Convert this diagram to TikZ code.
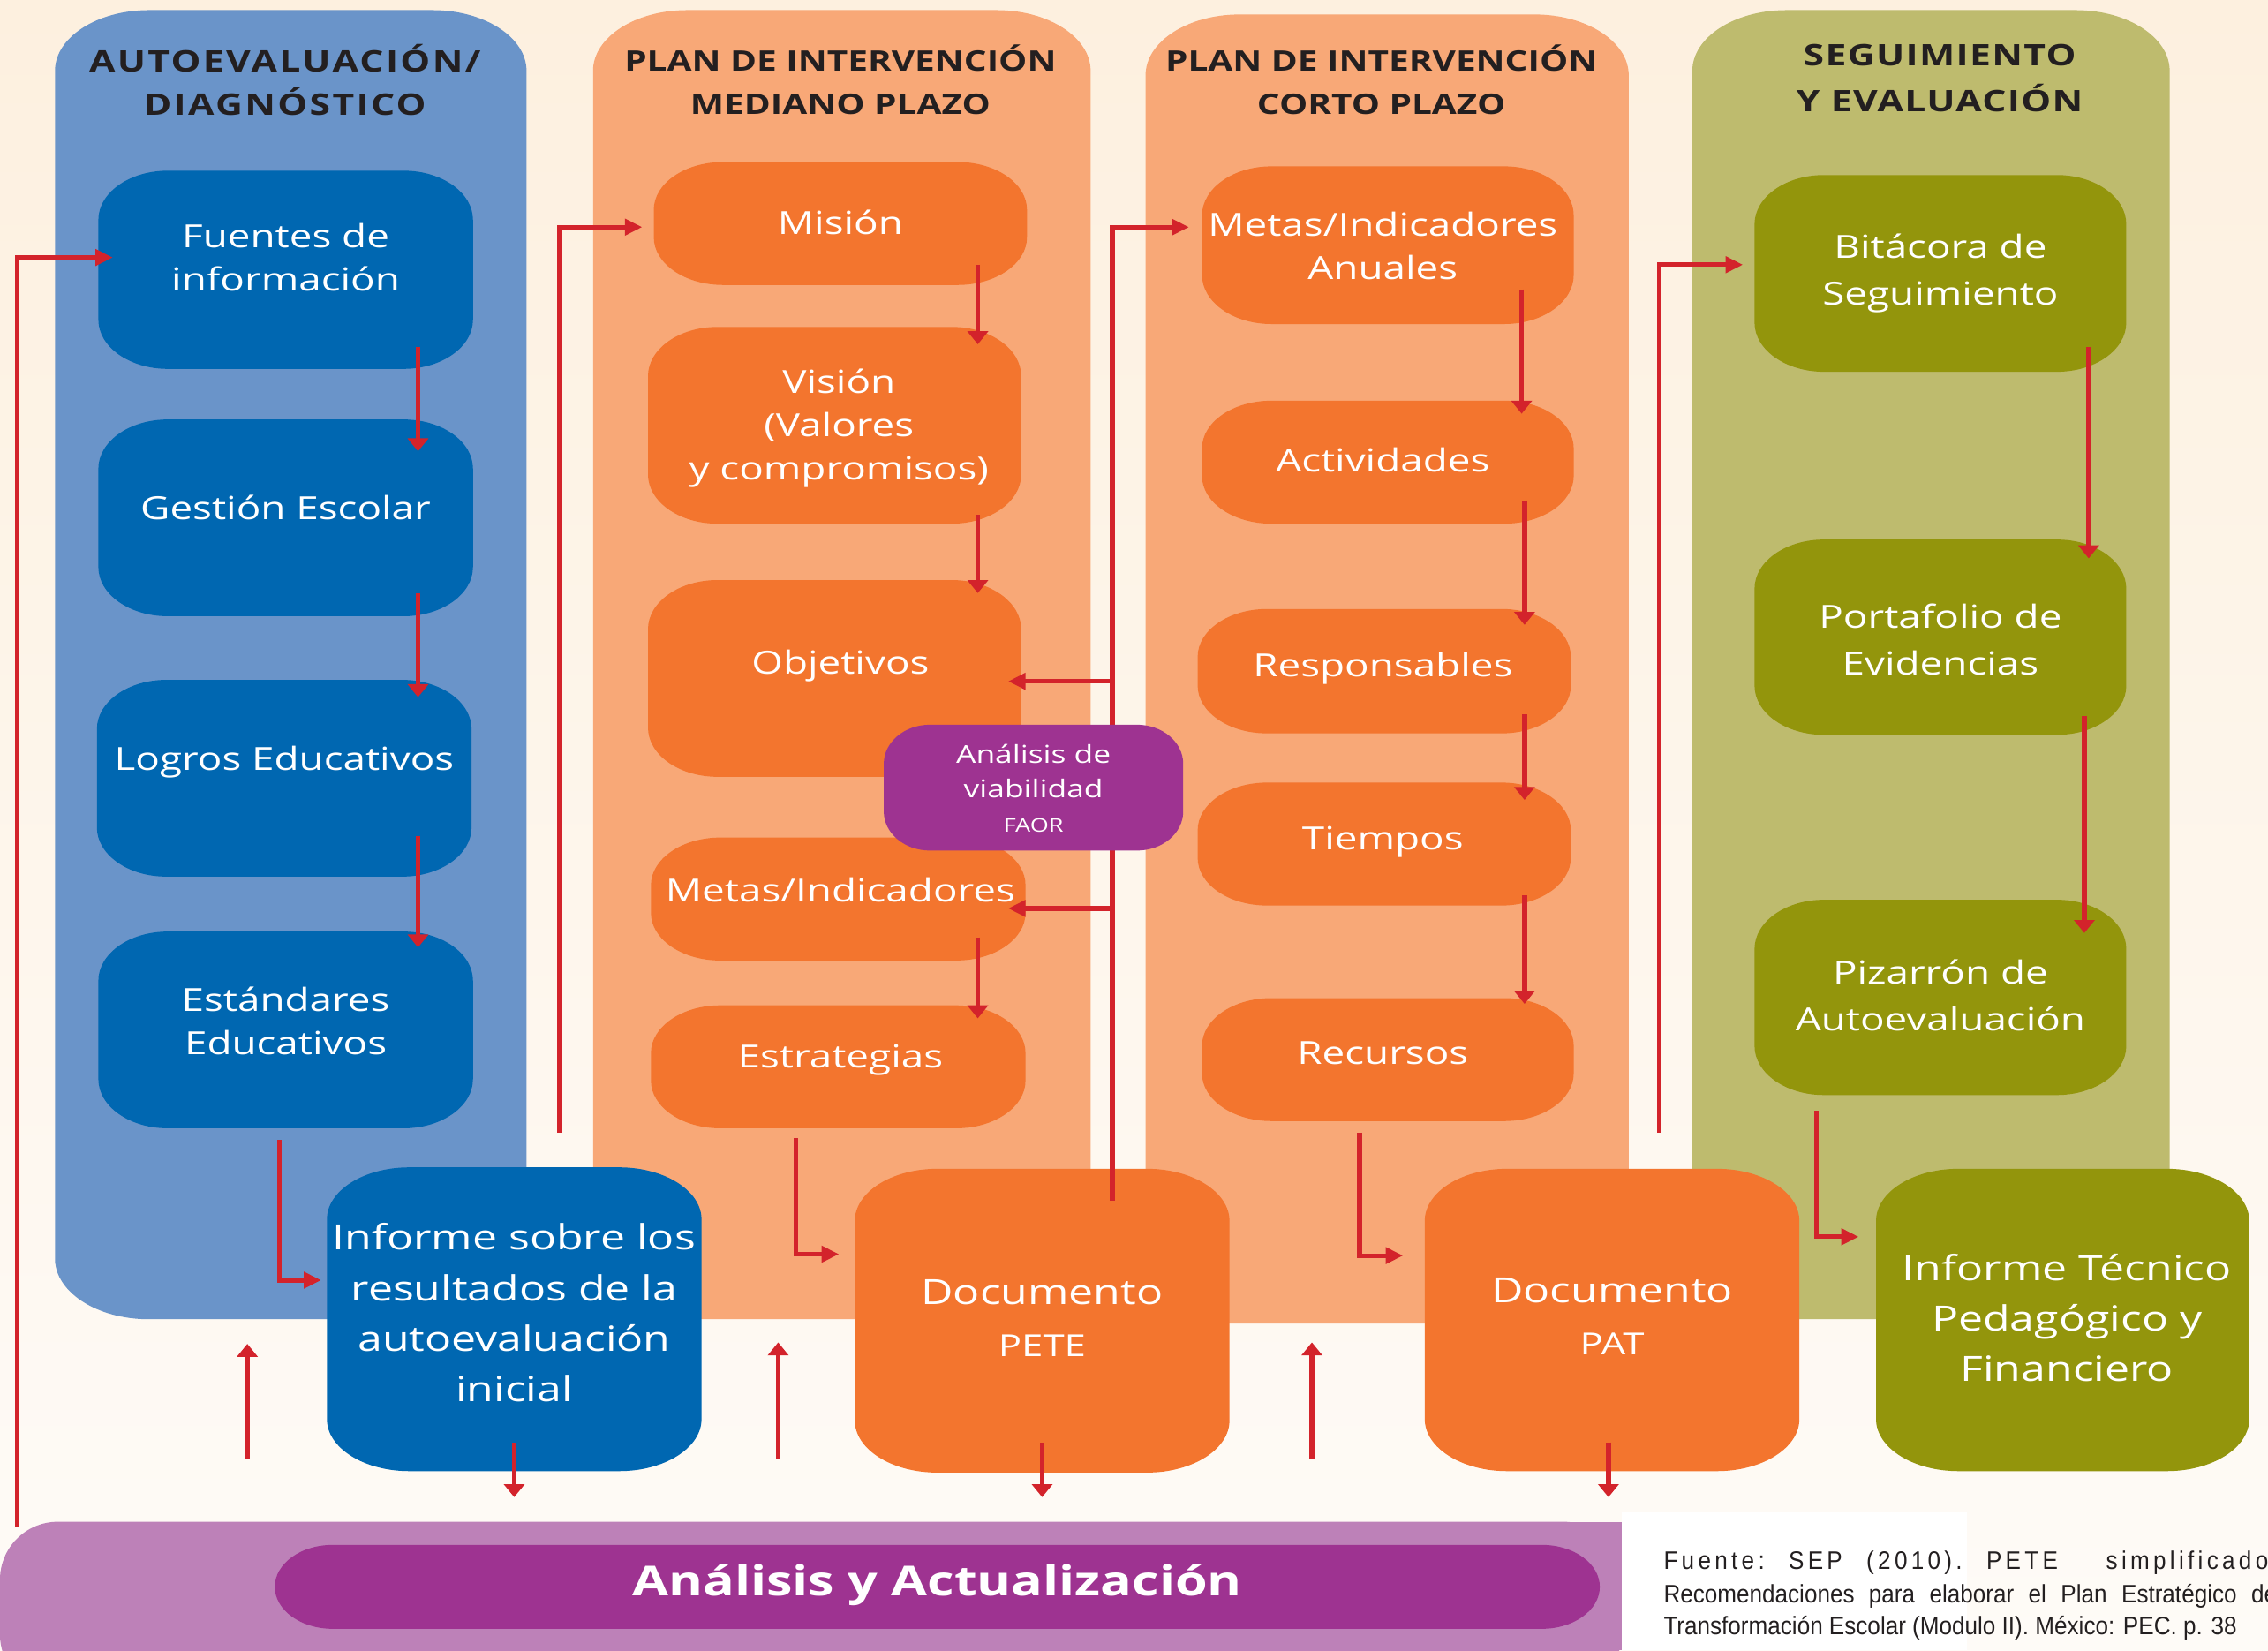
\documentclass[tikz,border=0pt]{standalone}
\usepackage{fontspec}
\setmainfont{Open Sans}[FakeStretch=1.27]
\newfontfamily\srcfont{Liberation Sans}[FakeStretch=0.91]
\usetikzlibrary{arrows.meta}
\definecolor{bgT}{HTML}{FDF0DF}
\definecolor{bgB}{HTML}{FEFBF7}
\definecolor{blueCol}{HTML}{6A94C9}
\definecolor{dblue}{HTML}{0067B1}
\definecolor{orCol}{HTML}{F8A877}
\definecolor{orng}{HTML}{F3752E}
\definecolor{grCol}{HTML}{BEBB6E}
\definecolor{olive}{HTML}{93950C}
\definecolor{purp}{HTML}{9E3391}
\definecolor{plight}{HTML}{BD81B8}
\definecolor{redA}{HTML}{D3232B}
\definecolor{headC}{HTML}{231F20}
\newcommand\elbox[4]{\fill[#2] ([xshift=#3]#1.north west) -- ([xshift=-#3]#1.north east)
  arc[start angle=90,end angle=0,x radius=#3,y radius=#4] -- ([yshift=#4]#1.south east)
  arc[start angle=0,end angle=-90,x radius=#3,y radius=#4] -- ([xshift=#3]#1.south west)
  arc[start angle=270,end angle=180,x radius=#3,y radius=#4] -- ([yshift=-#4]#1.north west)
  arc[start angle=180,end angle=90,x radius=#3,y radius=#4] -- cycle;}
\newcommand\mybox[8]{\node[bxn,minimum width=#4pt,minimum height=#5pt] (#1) at (#2,#3) {};
  \elbox{#1}{#6}{#7pt}{#8pt}}
\tikzset{
  bxn/.style={rectangle,inner sep=0pt,outer sep=0pt},
  arrV/.style={draw=redA,line width=3.2pt,-{Triangle[length=9pt,width=14pt]}},
  arrH/.style={draw=redA,line width=3.2pt,-{Triangle[length=12pt,width=11pt]}},
  lbl/.style={text=white,align=center,inner sep=0pt,font=\fontsize{22}{30}\selectfont},
  lbl4/.style={text=white,align=center,inner sep=0pt,font=\fontsize{22}{32}\selectfont},
  lblbig/.style={text=white,align=center,inner sep=0pt,font=\fontsize{24}{35}\selectfont},
  doc/.style={text=white,align=center,inner sep=0pt,font=\fontsize{24}{36}\selectfont},
  head/.style={text=headC,align=center,inner sep=0pt},
  src/.style={text=headC,anchor=base west,inner sep=0pt,font=\srcfont\fontsize{17.5}{22}\selectfont},
}
\begin{document}
\begin{tikzpicture}[x=1pt,y=-1pt]
\useasboundingbox (0,0) rectangle (1568,1141);
\clip (0,0) rectangle (1568,1141);
\fill[top color=bgT,bottom color=bgB] (0,0) rectangle (1568,1141);
% column backgrounds
\fill[blueCol] (103,7) -- (299,7) arc[start angle=90,end angle=0,x radius=65pt,y radius=42pt]
  -- (364,912) -- (103,912) arc[start angle=270,end angle=180,x radius=65pt,y radius=42pt]
  -- (38,49) arc[start angle=180,end angle=90,x radius=65pt,y radius=42pt] -- cycle;
\fill[orCol] (410,912) -- (410,49) arc[start angle=180,end angle=90,x radius=65pt,y radius=42pt]
  -- (689,7) arc[start angle=90,end angle=0,x radius=65pt,y radius=42pt] -- (754,912) -- cycle;
\fill[orCol] (792,915) -- (792,52) arc[start angle=180,end angle=90,x radius=65pt,y radius=42pt]
  -- (1061,10) arc[start angle=90,end angle=0,x radius=65pt,y radius=42pt] -- (1126,915) -- cycle;
\fill[grCol] (1170,912) -- (1170,49) arc[start angle=180,end angle=90,x radius=65pt,y radius=42pt]
  -- (1435,7) arc[start angle=90,end angle=0,x radius=65pt,y radius=42pt] -- (1500,912) -- cycle;
% headers
\node[head,font=\fontsize{20.5}{30}\selectfont\bfseries\addfontfeatures{LetterSpace=7}] (h1) at (197,55) {AUTOEVALUACIÓN/\\DIAGNÓSTICO};
\node[head,font=\fontsize{19.5}{30}\selectfont\bfseries] (h2) at (581,55) {PLAN DE INTERVENCIÓN\\MEDIANO PLAZO};
\node[head,font=\fontsize{19.5}{30}\selectfont\bfseries] (h3) at (955,55) {PLAN DE INTERVENCIÓN\\CORTO PLAZO};
\node[head,font=\fontsize{20.5}{32}\selectfont\bfseries\addfontfeatures{LetterSpace=4}] (h4) at (1341,54) {SEGUIMIENTO\\Y EVALUACIÓN};
% bottom band
\fill[plight,rounded corners=40pt] (0,1052) rectangle (1121,1170);
\fill[plight] (600,1052) rectangle (1121,1141);
\fill[white] (1121,1045) rectangle (1360,1141);
\mybox{analisis}{648}{1097}{916}{58}{purp}{40}{29}
\node[text=white,inner sep=0pt,font=\fontsize{28.5}{34}\selectfont\bfseries] (analisisT) at (648,1096) {Análisis y Actualización};
% source
\node[src] (src1) at (1150,1085) {\hbox to 418pt{\addfontfeatures{LetterSpace=15}Fuente:\hfill SEP\hfill (2010).\hfill PETE\hfill\hfill simplificado}};
\node[src] (src2) at (1150,1108) {\hbox to 424pt{Recomendaciones\hfill para\hfill elaborar\hfill el\hfill Plan\hfill Estratégico\hfill de}};
\node[src] (src3) at (1150,1130) {Transformación Escolar (Modulo II). México: PEC. p. 38};
% column 1
\mybox{fuentes}{197.5}{186.5}{259}{137}{dblue}{48}{34}
\node[lbl] (fuentesT) at (197.5,178) {Fuentes de\\información};
\mybox{gestion}{197.5}{358}{259}{136}{dblue}{48}{34}
\node[lbl] (gestionT) at (197.5,351) {Gestión Escolar};
\mybox{logros}{196.5}{538}{259}{136}{dblue}{48}{34}
\node[lbl] (logrosT) at (196.5,527) {Logros Educativos};
\mybox{estandares}{197.5}{712}{259}{136}{dblue}{48}{34}
\node[lbl] (estandaresT) at (197.5,706) {Estándares\\Educativos};
\mybox{informe}{355.5}{912}{259}{210}{dblue}{57}{36}
\node[lblbig] (informeT) at (355.5,907.5) {Informe sobre los\\resultados de la\\autoevaluación\\inicial};
% column 2
\mybox{mision}{581}{154.5}{258}{85}{orng}{48}{33}
\node[lbl] (misionT) at (581,154) {Misión};
\mybox{vision}{577}{294}{258}{136}{orng}{48}{34}
\node[lbl] (visionT) at (580,296) {Visión\\(Valores\\y compromisos)};
\mybox{objetivos}{577}{469}{258}{136}{orng}{48}{34}
\node[lbl] (objetivosT) at (581,460) {Objetivos};
\mybox{metas}{579.5}{621.5}{259}{85}{orng}{48}{33}
\node[lbl] (metasT) at (581,615) {Metas/Indicadores};
\mybox{estrategias}{579.5}{737.5}{259}{85}{orng}{48}{33}
\node[lbl] (estrategiasT) at (581,733) {Estrategias};
\mybox{pete}{720.5}{913}{259}{210}{orng}{57}{36}
\node[doc] (peteT) at (720.5,911) {Documento\\{\fontsize{21}{25}\selectfont PETE}};
% column 3
\mybox{metasA}{959.5}{169.5}{257}{109}{orng}{48}{34}
\node[lbl] (metasAT) at (956,170) {Metas/Indicadores\\Anuales};
\mybox{actividades}{959.5}{319.5}{257}{85}{orng}{48}{33}
\node[lbl] (actividadesT) at (956,318) {Actividades};
\mybox{responsables}{957}{464}{258}{86}{orng}{48}{33}
\node[lbl] (responsablesT) at (956,462) {Responsables};
\mybox{tiempos}{957}{583.5}{258}{85}{orng}{48}{33}
\node[lbl] (tiemposT) at (956,582) {Tiempos};
\mybox{recursos}{959.5}{732.5}{257}{85}{orng}{48}{33}
\node[lbl] (recursosT) at (956,728) {Recursos};
\mybox{pat}{1114.5}{912.5}{259}{209}{orng}{57}{36}
\node[doc] (patT) at (1114.5,910) {Documento\\{\fontsize{21}{25}\selectfont PAT}};
% column 4
\mybox{bitacora}{1341.5}{189}{257}{136}{olive}{48}{34}
\node[lbl4] (bitacoraT) at (1341.5,189) {Bitácora de\\Seguimiento};
\mybox{portafolio}{1341.5}{440.5}{257}{135}{olive}{48}{34}
\node[lbl4] (portafolioT) at (1341.5,442) {Portafolio de\\Evidencias};
\mybox{pizarron}{1341.5}{689.5}{257}{135}{olive}{48}{34}
\node[lbl4] (pizarronT) at (1341.5,688) {Pizarrón de\\Autoevaluación};
\mybox{inftec}{1426}{912.5}{258}{209}{olive}{57}{36}
\node[lblbig] (inftecT) at (1429,911) {Informe Técnico\\Pedagógico y\\Financiero};
% connectors, column 1
\coordinate (L0) at (12,1055);
\draw[arrH] (L0) |- ([xshift=10pt,yshift=8.5pt]fuentes.west);
\draw[arrV] ([xshift=91.5pt,yshift=15pt]fuentes.south) -- ([xshift=91.5pt,yshift=-22pt]gestion.north);
\draw[arrV] ([xshift=91.5pt,yshift=16pt]gestion.south) -- ([xshift=92.5pt,yshift=-12pt]logros.north);
\draw[arrV] ([xshift=92.5pt,yshift=28pt]logros.south) -- ([xshift=91.5pt,yshift=-11pt]estandares.north);
\draw[arrH] ([xshift=-4.5pt,yshift=-8pt]estandares.south) |- ([xshift=-4pt,yshift=27pt]informe.west);
\coordinate (U1a) at (171,1008); \coordinate (U1b) at (171,929);
\draw[arrV] (U1a) -- (U1b);
\draw[arrV] ([yshift=20pt]informe.south) -- ([yshift=-18pt]informe.south);
% column 2
\coordinate (M0) at (387,783);
\draw[arrH] (M0) |- ([xshift=-8pt,yshift=-2.5pt]mision.west);
\draw[arrV] ([xshift=95pt,yshift=14pt]mision.south) -- ([xshift=99pt,yshift=-12pt]vision.north);
\draw[arrV] ([xshift=99pt,yshift=6pt]vision.south) -- ([xshift=99pt,yshift=-9pt]objetivos.north);
\draw[arrV] ([xshift=96.5pt,yshift=16pt]metas.south) -- ([xshift=96.5pt,yshift=-9pt]estrategias.north);
\draw[arrH] ([xshift=-29.5pt,yshift=-7pt]estrategias.south) |- ([xshift=-11pt,yshift=46pt]pete.west);
\coordinate (U2a) at (538,1008); \coordinate (U2b) at (538,928);
\draw[arrV] (U2a) -- (U2b);
\draw[arrV] ([yshift=21pt]pete.south) -- ([yshift=-17pt]pete.south);
\coordinate (P0) at ([xshift=48.5pt,yshift=-22pt]pete.north);
\draw[arrH] (P0) |- ([xshift=-9pt,yshift=12.5pt]metasA.west);
\draw[arrH] ([yshift=-2pt]objetivos.east -| P0) -- ([xshift=-9pt,yshift=-2pt]objetivos.east);
\draw[arrH] ([yshift=-6.5pt]metas.east -| P0) -- ([xshift=-12pt,yshift=-6.5pt]metas.east);
% column 3
\draw[arrV] ([xshift=92.5pt,yshift=24pt]metasA.south) -- ([xshift=92.5pt,yshift=-9pt]actividades.north);
\draw[arrV] ([xshift=94.5pt,yshift=16pt]actividades.south) -- ([xshift=97pt,yshift=-11pt]responsables.north);
\draw[arrV] ([xshift=97pt,yshift=13pt]responsables.south) -- ([xshift=97pt,yshift=-12pt]tiempos.north);
\draw[arrV] ([xshift=97pt,yshift=7pt]tiempos.south) -- ([xshift=94.5pt,yshift=-4pt]recursos.north);
\draw[arrH] ([xshift=-19.5pt,yshift=-8pt]recursos.south) |- ([xshift=-15pt,yshift=44.5pt]pat.west);
\coordinate (U3a) at (907,1008); \coordinate (U3b) at (907,928);
\draw[arrV] (U3a) -- (U3b);
\draw[arrV] ([xshift=-2.5pt,yshift=20pt]pat.south) -- ([xshift=-2.5pt,yshift=-18pt]pat.south);
% column 4
\coordinate (B0) at (1147,783);
\draw[arrH] (B0) |- ([xshift=-8pt,yshift=6pt]bitacora.west);
\draw[arrV] ([xshift=102.5pt,yshift=17pt]bitacora.south) -- ([xshift=102.5pt,yshift=-13pt]portafolio.north);
\draw[arrV] ([xshift=99.5pt,yshift=13pt]portafolio.south) -- ([xshift=99.5pt,yshift=-23pt]pizarron.north);
\draw[arrH] ([xshift=-85.5pt,yshift=-11pt]pizarron.south) |- ([xshift=-12pt,yshift=57.5pt]inftec.west);
% FAOR box on top
\mybox{faor}{714.5}{544.5}{207}{87}{purp}{32}{27}
\node[text=white,align=center,inner sep=0pt,font=\fontsize{17}{24}\selectfont] (faorT) at (714.5,545) {Análisis de\\viabilidad\\{\fontsize{13}{16}\selectfont FAOR}};
\end{tikzpicture}
\end{document}
